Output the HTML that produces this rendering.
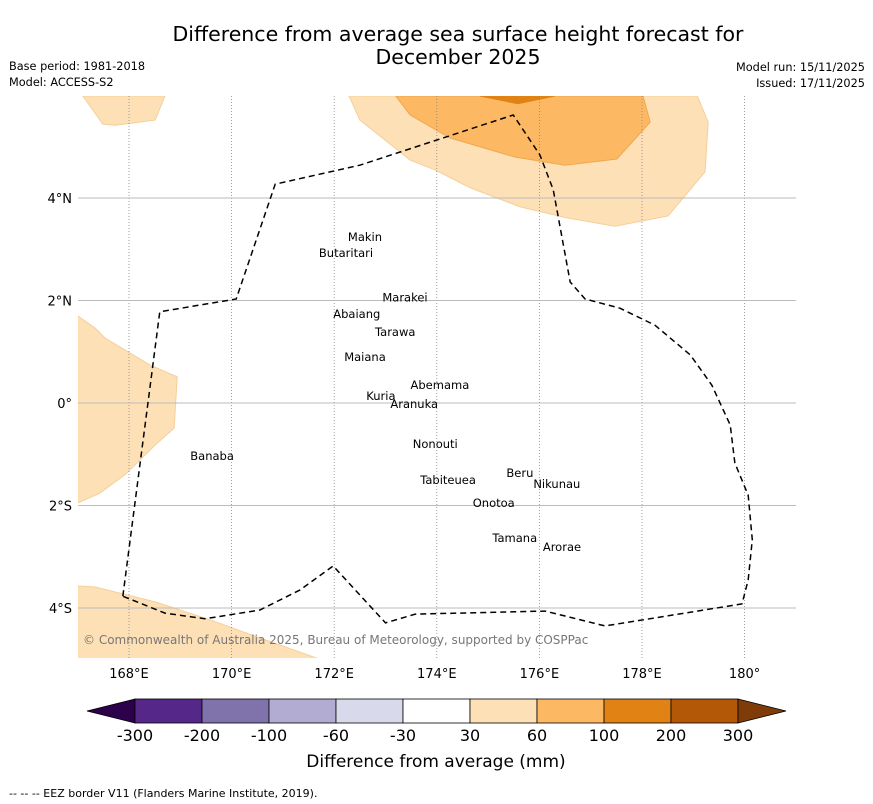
<!DOCTYPE html>
<html><head><meta charset="utf-8"><style>
body{margin:0;background:#fff;}
svg{display:block;font-family:"DejaVu Sans","Liberation Sans",sans-serif;}
</style></head><body>
<svg id="chart" width="873" height="804">
<text x="458" y="41" font-size="20.5" text-anchor="middle">Difference from average sea surface height forecast for</text>
<text x="458" y="64" font-size="20.5" text-anchor="middle">December 2025</text>
<text x="9" y="70" font-size="11.3">Base period: 1981-2018</text>
<text x="9" y="86" font-size="11.3">Model: ACCESS-S2</text>
<text x="865" y="71" font-size="11.3" text-anchor="end">Model run: 15/11/2025</text>
<text x="865" y="87" font-size="11.3" text-anchor="end">Issued: 17/11/2025</text>
<defs><clipPath id="mapclip"><rect x="78" y="96" width="718" height="562"/></clipPath></defs>
<g id="map" clip-path="url(#mapclip)"></g>
<g id="axes"></g>
<g id="cbar"></g>
<text x="436" y="767" font-size="17" text-anchor="middle">Difference from average (mm)</text>
<text x="9" y="797" font-size="11">-- -- -- EEZ border V11 (Flanders Marine Institute, 2019).</text>
</svg>
<script>
const lonTicks=[168,170,172,174,176,178,180];
const lonLabels=["168°E","170°E","172°E","174°E","176°E","178°E","180°"];
const latTicks=[4,2,0,-2,-4];
const latLabels=["4°N","2°N","0°","2°S","4°S"];
const cbarBounds=["-300","-200","-100","-60","-30","30","60","100","200","300"];
const cbarColors=["#542788","#8073ac","#b2abd2","#d8daeb","#ffffff","#fee0b6","#fdb863","#e08214","#b35806"];
const contourLight=[[172.29,5.99],[172.5,5.52],[173.48,4.74],[173.96,4.55],[174.65,4.2],[175.62,3.83],[176.5,3.62],[177.47,3.45],[178.51,3.65],[179.23,4.51],[179.29,5.48],[179.08,5.99]];
const contourMed=[[173.2,5.99],[173.48,5.62],[174.26,5.17],[175.52,4.8],[176.5,4.64],[177.51,4.76],[178.16,5.48],[178.02,5.99]];
const contourDark=[[174.84,5.99],[175.58,5.84],[176.3,5.99]];
const contourLeft=[[167.0,1.7],[167.34,1.46],[167.53,1.27],[168.41,0.74],[168.94,0.51],[168.88,-0.49],[168.51,-0.82],[167.92,-1.4],[167.43,-1.76],[167.0,-1.95]];
const contourBL=[[167.0,-3.57],[167.34,-3.59],[168.51,-3.88],[169.58,-4.23],[170.65,-4.62],[171.33,-4.86],[171.72,-5.0],[167.0,-5.0]];
const contourTL=[[167.1,5.99],[167.49,5.44],[167.73,5.42],[168.51,5.52],[168.7,5.99]];
const eez=[[167.88,-3.77],[168.6,1.78],[170.09,2.03],[170.85,4.27],[172.5,4.64],[175.49,5.62],[176.01,4.84],[176.27,4.16],[176.6,2.36],[176.89,2.03],[177.57,1.85],[178.25,1.52],[178.94,0.94],[179.36,0.35],[179.72,-0.43],[179.81,-1.17],[180.07,-1.8],[180.15,-2.67],[180.07,-3.45],[179.95,-3.92],[177.28,-4.35],[176.11,-4.06],[173.58,-4.12],[173.0,-4.29],[171.98,-3.18],[171.33,-3.65],[170.55,-4.04],[169.48,-4.21],[168.7,-4.1],[167.88,-3.77]];
const islands=[["Makin",172.6,3.16],["Butaritari",172.23,2.85],["Marakei",173.38,1.98],["Abaiang",172.44,1.66],["Tarawa",173.19,1.31],["Maiana",172.6,0.82],["Abemama",174.06,0.27],["Kuria",172.91,0.06],["Aranuka",173.56,-0.1],["Nonouti",173.97,-0.88],["Banaba",169.62,-1.11],["Beru",175.62,-1.44],["Nikunau",176.34,-1.66],["Tabiteuea",174.22,-1.58],["Onotoa",175.11,-2.03],["Tamana",175.52,-2.71],["Arorae",176.44,-2.89]];
const NS="http://www.w3.org/2000/svg";
const X=lon=>129+(lon-168)*51.3;
const Y=lat=>403-lat*51.25;
function mk(tag,attrs,parent){const e=document.createElementNS(NS,tag);for(const k in attrs)e.setAttribute(k,attrs[k]);parent.appendChild(e);return e;}
const map=document.getElementById('map'),axes=document.getElementById('axes'),cbar=document.getElementById('cbar');
function poly(pts,fill,stroke,name){const p=mk('polygon',{points:pts.map(q=>X(q[0])+','+Y(q[1])).join(' '),fill:fill,stroke:stroke,'stroke-width':1},map);

}
poly(contourLight,'#fee0b6','#f5cf9a','contour-30-60');
poly(contourMed,'#fdb863','#f0a850','contour-60-100');
poly(contourDark,'#e08214','#e08214','contour-100-200');
poly(contourLeft,'#fee0b6','#f5cf9a','contour-west');
poly(contourBL,'#fee0b6','#f5cf9a','contour-southwest');
poly(contourTL,'#fee0b6','#f5cf9a','contour-northwest');
lonTicks.forEach((v,i)=>{const l=mk('line',{x1:X(v),x2:X(v),y1:96,y2:658,stroke:'#888','stroke-width':0.8,'stroke-dasharray':'1,2'},map);


const t=mk('text',{x:X(v),y:678,'font-size':13,'text-anchor':'middle'},axes);t.textContent=lonLabels[i];

});
latTicks.forEach((v,i)=>{const l=mk('line',{x1:78,x2:796,y1:Y(v),y2:Y(v),stroke:'#bbb','stroke-width':1},map);


const t=mk('text',{x:72,y:Y(v)+5,'font-size':13,'text-anchor':'end'},axes);t.textContent=latLabels[i];

});
const e=mk('polyline',{points:eez.map(q=>X(q[0])+','+Y(q[1])).join(' '),fill:'none',stroke:'#000','stroke-width':1.5,'stroke-dasharray':'6,4'},map);


islands.forEach(d=>{const t=mk('text',{x:X(d[1]),y:Y(d[2]),'font-size':11.5,'text-anchor':'middle'},map);t.textContent=d[0];

});
const cr=mk('text',{x:83,y:644,'font-size':12,fill:'#777'},map);cr.textContent="© Commonwealth of Australia 2025, Bureau of Meteorology, supported by COSPPac";


const cx0=135,cw=67,cy=699,ch=24;
const lt=mk('polygon',{points:`${cx0},${cy} 87,${cy+ch/2} ${cx0},${cy+ch}`,fill:'#2d004b',stroke:'#000','stroke-width':0.8},cbar);


cbarColors.forEach((c,i)=>{const r=mk('rect',{x:cx0+i*cw,y:cy,width:cw,height:ch,fill:c,stroke:'#000','stroke-width':0.8},cbar);

});
const rt=mk('polygon',{points:`${cx0+9*cw},${cy} 786,${cy+ch/2} ${cx0+9*cw},${cy+ch}`,fill:'#7f3b08',stroke:'#000','stroke-width':0.8},cbar);


cbarBounds.forEach((b,i)=>{const t=mk('text',{x:cx0+i*cw,y:741,'font-size':16,'text-anchor':'middle'},cbar);t.textContent=b;

});
</script>
</body></html>
